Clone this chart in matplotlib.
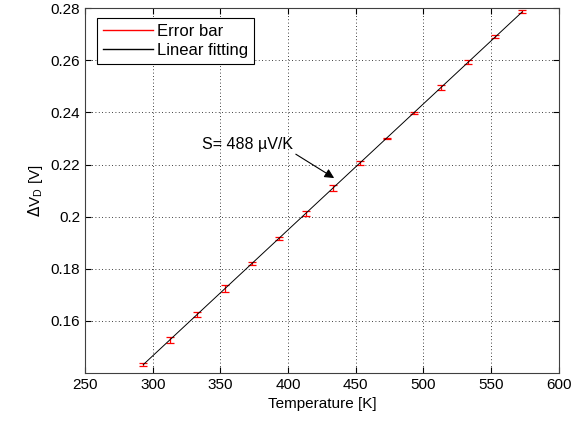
import numpy as np
import matplotlib
matplotlib.use("Agg")
import matplotlib.pyplot as plt
from matplotlib.lines import Line2D

plt.rcParams['font.family'] = ['Liberation Sans', 'DejaVu Sans']

# measured data
temp = [293, 313, 333, 353, 373, 393, 413, 433, 453, 473, 493, 513, 533, 553, 573]
dvd = [0.1432, 0.1528, 0.1625, 0.1725, 0.1820, 0.1915, 0.2012, 0.2110,
       0.2207, 0.2300, 0.2397, 0.2496, 0.2592, 0.2690, 0.2787]
err = [0.0006, 0.0012, 0.0009, 0.0013, 0.0004, 0.0005, 0.0009, 0.0010,
       0.0007, 0.0003, 0.0004, 0.0009, 0.0008, 0.0005, 0.0006]

t = np.array(temp)
v = np.array(dvd)
p = np.polyfit(t, v, 1)

fig = plt.figure(figsize=(5.87, 4.28), dpi=100)
ax = fig.add_axes([0.145, 0.1285, 0.807, 0.8525])

ax.errorbar(t, v, yerr=err, fmt='none', ecolor='red', elinewidth=0.9,
            capsize=3, capthick=0.9)
ax.plot(t, np.polyval(p, t), color='black', linewidth=0.7)

ax.set_xlim(250, 600)
ax.set_ylim(0.14, 0.28)
ax.set_xticks(np.arange(250, 601, 50))
ax.set_yticks([0.16, 0.18, 0.2, 0.22, 0.24, 0.26, 0.28])
ax.set_yticklabels(['0.16', '0.18', '0.2', '0.22', '0.24', '0.26', '0.28'])
ax.grid(True, color='black', linestyle=(0, (1, 3)), linewidth=0.6)
ax.tick_params(direction='in', top=True, right=True, labelsize=11, length=4)
for s in ax.spines.values():
    s.set_color('#404040')

ax.set_xlabel('Temperature [K]', fontsize=11)
ax.set_ylabel(r'$\Delta$V$_\mathregular{D}$ [V]', fontsize=11)

ax.annotate('S= 488 \u00b5V/K', xy=(434, 0.2148), xytext=(370, 0.2275),
            ha='center', va='center', fontsize=11.5,
            arrowprops=dict(arrowstyle='-|>', color='black', lw=0.8,
                            mutation_scale=14, shrinkA=0, shrinkB=0,
                            relpos=(1.0, 0.0)))

handles = [Line2D([], [], color='red', linewidth=1.0),
           Line2D([], [], color='black', linewidth=1.0)]
leg = ax.legend(handles, ['Error bar', 'Linear fitting'], loc='upper left',
                fontsize=12, fancybox=False, framealpha=1, edgecolor='black',
                handlelength=3.0, borderpad=0.35, labelspacing=0.25,
                handletextpad=0.25, borderaxespad=0, bbox_to_anchor=(0.025, 0.973))
leg.get_frame().set_linewidth(0.8)

fig.savefig('out.png', dpi=100)
